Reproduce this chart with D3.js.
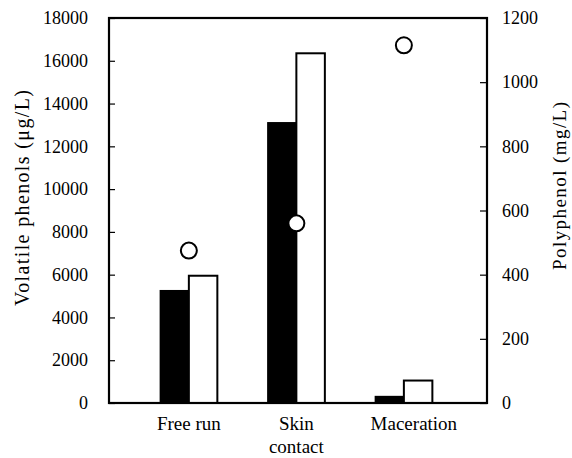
<!DOCTYPE html>
<html><head><meta charset="utf-8">
<script src="https://cdn.jsdelivr.net/npm/d3@7"></script>
<style>
html,body{margin:0;padding:0;background:#fff;}
svg{display:block;font-family:"Liberation Serif","Times New Roman",serif;}
</style></head>
<body><svg id="chart" width="572" height="458"></svg>
<script>
// ---- data ----
const categories = ["Free run", "Skin contact", "Maceration"];
const categoryLines = [["Free run"], ["Skin", "contact"], ["Maceration"]];
const volatileBlack = [5250, 13100, 300];     // µg/L, filled bars
const volatileWhite = [5950, 16350, 1050];    // µg/L, open bars
const polyphenol = [475, 560, 1115];          // mg/L, circles
const leftTicks = [0, 2000, 4000, 6000, 8000, 10000, 12000, 14000, 16000, 18000];
const rightTicks = [0, 200, 400, 600, 800, 1000, 1200];
const leftTitle = "Volatile phenols (μg/L)";
const rightTitle = "Polyphenol (mg/L)";

// ---- layout ----
const L = 109, R = 487, T = 18, B = 403;
const svg = d3.select("#chart");

const x = d3.scalePoint().domain(categories).range([L, R]).padding(0.758).align(0.49);
const yL = d3.scaleLinear().domain([0, 18000]).range([B, T]);
const yR = d3.scaleLinear().domain([0, 1200]).range([B, T]);
const bw = x.step() * 0.265;

// bars
const g = svg.append("g");
g.selectAll("rect.blk").data(categories).join("rect")
  .attr("x", d => x(d) - bw).attr("width", bw)
  .attr("y", (d, i) => yL(volatileBlack[i])).attr("height", (d, i) => B - yL(volatileBlack[i]))
  .attr("fill", "#000").attr("stroke", "#000").attr("stroke-width", 1.5);
g.selectAll("rect.wht").data(categories).join("rect")
  .attr("x", d => x(d)).attr("width", bw)
  .attr("y", (d, i) => yL(volatileWhite[i])).attr("height", (d, i) => B - yL(volatileWhite[i]))
  .attr("fill", "#fff").attr("stroke", "#000").attr("stroke-width", 2);

// circles
g.selectAll("circle").data(categories).join("circle")
  .attr("cx", d => x(d)).attr("cy", (d, i) => yR(polyphenol[i])).attr("r", 8)
  .attr("fill", "#fff").attr("stroke", "#000").attr("stroke-width", 2);

// frame
svg.append("rect").attr("x", L).attr("y", T).attr("width", R - L).attr("height", B - T)
  .attr("fill", "none").attr("stroke", "#000").attr("stroke-width", 2.2);

// axes
const axL = svg.append("g").attr("transform", `translate(${L},0)`)
  .call(d3.axisLeft(yL).tickValues(leftTicks).tickFormat(d3.format("d")).tickSize(-6).tickPadding(21));
const axR = svg.append("g").attr("transform", `translate(${R},0)`)
  .call(d3.axisRight(yR).tickValues(rightTicks).tickFormat(d3.format("d")).tickSize(-7).tickPadding(15));
[axL, axR].forEach(a => {
  a.select(".domain").remove();
  a.selectAll("line").attr("stroke", "#000").attr("stroke-width", 1.2);
  a.selectAll("text").attr("font-family", "Liberation Serif, serif").attr("font-size", 18).attr("fill", "#000");
});

// category labels
const xl = svg.append("g");
categories.forEach((c, i) => {
  const t = xl.append("text").attr("text-anchor", "middle").attr("font-size", 19).attr("fill", "#000")
    .attr("x", x(c) + (i === 2 ? 10 : 0)).attr("y", 430);
  categoryLines[i].forEach((ln, j) => {
    t.append("tspan").attr("x", x(c) + (i === 2 ? 10 : 0)).attr("dy", j === 0 ? 0 : 23).text(ln);
  });
});

// axis titles
svg.append("text").attr("transform", "translate(29,198) rotate(-90)")
  .attr("text-anchor", "middle").attr("font-size", 20).attr("fill", "#000")
  .attr("textLength", 216).attr("lengthAdjust", "spacing").text(leftTitle);
svg.append("text").attr("transform", "translate(566,186) rotate(-90)")
  .attr("text-anchor", "middle").attr("font-size", 19).attr("fill", "#000")
  .attr("textLength", 168).attr("lengthAdjust", "spacing").text(rightTitle);
</script>
</body></html>
